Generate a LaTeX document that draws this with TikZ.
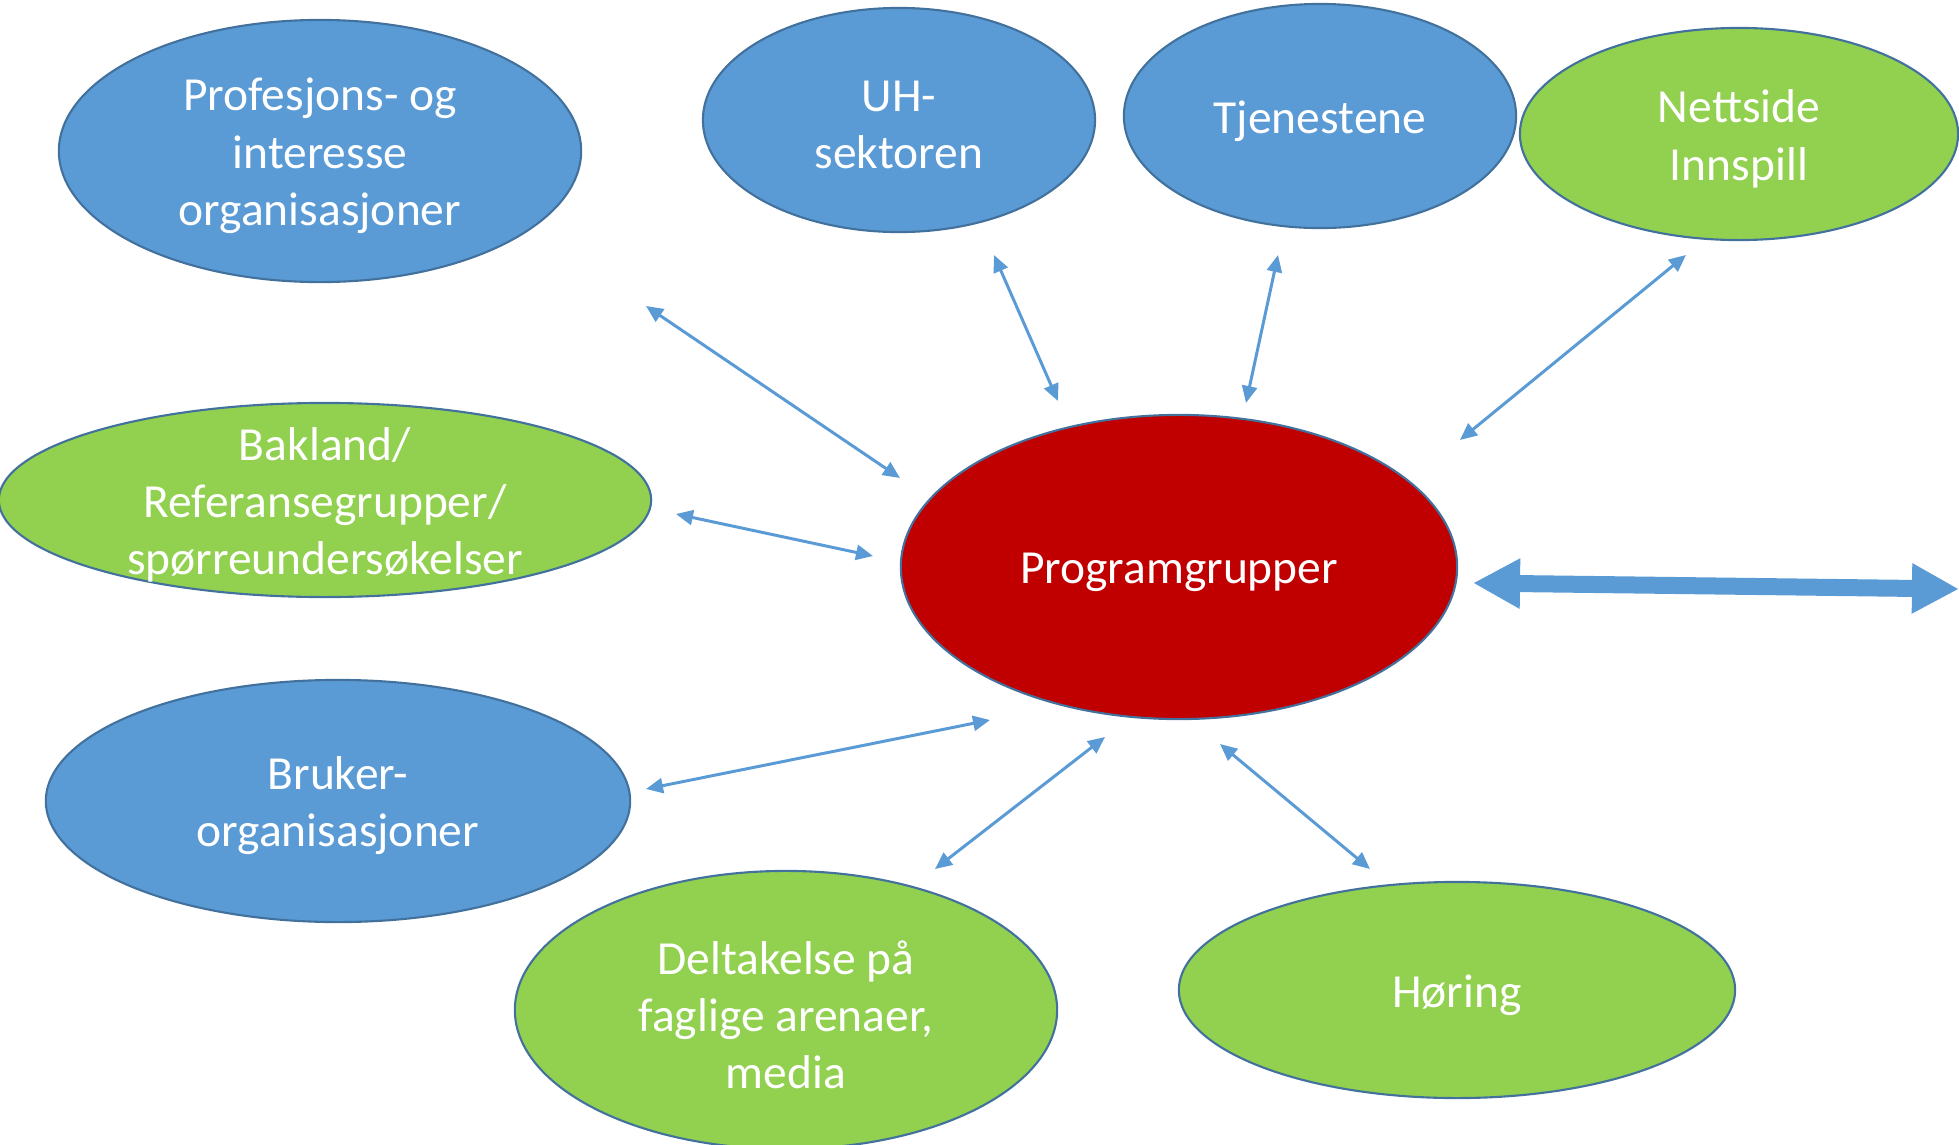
\documentclass[tikz,border=0pt]{standalone}
\usepackage{fontspec}
\setmainfont{Carlito}
\usepackage{tikz}
\usetikzlibrary{arrows.meta}
\usetikzlibrary{shapes.geometric}
\definecolor{bluefill}{HTML}{5B9BD5}
\definecolor{greenfill}{HTML}{92D050}
\definecolor{redfill}{HTML}{C00000}
\definecolor{rimblue}{HTML}{41719C}

\begin{document}
\begin{tikzpicture}[x=0.01cm,y=-0.01cm,
    bubble/.style={ellipse,draw=rimblue,line width=0.6pt,inner sep=0pt},
    blue/.style={bubble,fill=bluefill},
    green/.style={bubble,fill=greenfill},
    txt/.style={text=white,align=center,inner sep=0pt,yshift=-1.4pt,
      font=\fontsize{13.5}{16.3}\selectfont},
    link/.style={bluefill,line width=0.85pt,{Triangle[length=1.7mm,width=1.5mm]}-{Triangle[length=1.7mm,width=1.5mm]}},
    biglink/.style={bluefill,line width=1.7mm,{Triangle[length=4.7mm,width=4.7mm]}-{Triangle[length=4.7mm,width=4.7mm]}}]
   		\useasboundingbox (0,0) rectangle (1959,1145);

   		\node[blue,minimum width=5.22cm,minimum height=2.62cm,label={[txt]center:{Profesjons- og\\interesse\\organisasjoner}}] (prof) at (320,151) {};
   		\node[blue,minimum width=3.92cm,minimum height=2.24cm,label={[txt]center:{UH-\\sektoren}}] (uh) at (899,120) {};
   		\node[blue,minimum width=3.92cm,minimum height=2.24cm,label={[txt]center:Tjenestene}] (tjen) at (1320,116) {};
   		\node[green,minimum width=4.38cm,minimum height=2.12cm,label={[txt]center:{Nettside\\Innspill}}] (nett) at (1739,134) {};
   		\node[green,minimum width=6.52cm,minimum height=1.94cm,label={[txt]center:{Bakland/\\Referansegrupper/\\spørreundersøkelser}}] (bak) at (325,500) {};
   		\node[bubble,fill=redfill,minimum width=5.56cm,minimum height=3.04cm,label={[txt]center:Programgrupper}] (prog) at (1179,567) {};
   		\node[blue,minimum width=5.84cm,minimum height=2.42cm,label={[txt]center:{Bruker-\\organisasjoner}}] (bruk) at (338,801) {};
   		\node[green,minimum width=5.42cm,minimum height=2.78cm,label={[txt]center:{Deltakelse på\\faglige arenaer,\\media}}] (delt) at (786,1010) {};
   		\node[green,minimum width=5.56cm,minimum height=2.16cm,label={[txt]center:Høring}] (hor) at (1457,990) {};

   		% arrow ends
   		\coordinate (prof_a) at (646,306);  \coordinate (prog_a) at (900,478);
   		\coordinate (uh_a) at (994,255);    \coordinate (prog_b) at (1058,401);
   		\coordinate (tjen_a) at (1278,255); \coordinate (prog_c) at (1246,403);
   		\coordinate (nett_a) at (1686,255); \coordinate (prog_d) at (1460,440);
   		\coordinate (bak_a) at (676,514);   \coordinate (prog_e) at (873,556);
   		\coordinate (bruk_a) at (646,789);  \coordinate (prog_f) at (990,720);
   		\coordinate (delt_a) at (935,869);  \coordinate (prog_g) at (1105,737);
   		\coordinate (hor_a) at (1370,869);  \coordinate (prog_h) at (1220,744);
   		\coordinate (big_l) at (1473,583);  \coordinate (big_r) at (1959,589);

   		\draw[link] (prof_a) -- (prog_a);
   		\draw[link] (uh_a) -- (prog_b);
   		\draw[link] (tjen_a) -- (prog_c);
   		\draw[link] (nett_a) -- (prog_d);
   		\draw[link] (bak_a) -- (prog_e);
   		\draw[link] (bruk_a) -- (prog_f);
   		\draw[link] (delt_a) -- (prog_g);
   		\draw[link] (hor_a) -- (prog_h);
   		\draw[biglink] (big_l) -- (big_r);
 	\end{tikzpicture}
\end{document}
